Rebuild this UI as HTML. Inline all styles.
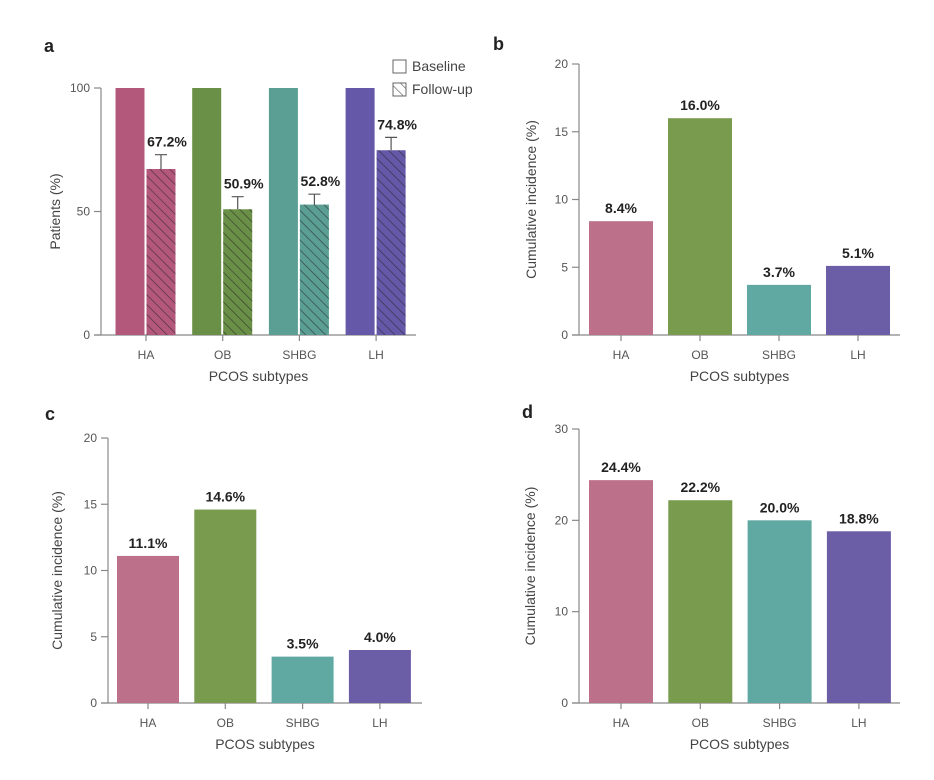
<!DOCTYPE html>
<html><head><meta charset="utf-8"><style>
html,body{margin:0;padding:0;background:#fff;}
svg{display:block;font-family:"Liberation Sans",sans-serif;}
.tick{font-size:12px;fill:#555;}
.lab{font-size:14px;font-weight:900;fill:#222;}
.ttl{font-size:14px;fill:#444;}
.pl{font-size:18px;font-weight:bold;fill:#222;}
</style></head><body>
<svg id="fig" width="934" height="780" viewBox="0 0 934 780">
<defs>
<pattern id="hatch" patternUnits="userSpaceOnUse" width="7" height="7" patternTransform="rotate(-45)">
<rect width="7" height="7" fill="none"/><line x1="0" y1="0" x2="0" y2="7" stroke="#222" stroke-opacity="0.7" stroke-width="1.4"/>
</pattern>
</defs>
</svg>
<script>
const categories = ["HA","OB","SHBG","LH"];
const aBaseline = [100,100,100,100];
const aFollow = [67.2,50.9,52.8,74.8];
const aErrTop = [73,56,57,80];
const aTicks = [0,50,100];
const bValues = [8.4,16.0,3.7,5.1];
const bTicks = [0,5,10,15,20];
const cValues = [11.1,14.6,3.5,4.0];
const cTicks = [0,5,10,15,20];
const dValues = [24.4,22.2,20.0,18.8];
const dTicks = [0,10,20,30];
const colorsA = ["#b4587b","#6a8f46","#5b9e94","#6658a8"];
const colorsB = ["#bd7089","#789b4d","#5fa9a2","#6b5da6"];

const svg = document.getElementById('fig');
const NS = "http://www.w3.org/2000/svg";
function mk(tag, attrs, parent, text){
  const e = document.createElementNS(NS, tag);
  for (const k in attrs) e.setAttribute(k, attrs[k]);
  if (text !== undefined) e.textContent = text;
  (parent||svg).appendChild(e);
  return e;
}

function panel(o){
  const g = mk('g', {});
  
  
  const yScale = v => o.y0 - (v / o.yMax) * (o.y0 - o.yTop);
  const xScale = i => o.cx0 + i * o.step;
  const L = mk('text', {x:o.lx, y:o.ly, class:'pl'}, g, o.letter);
  
  
  const ya = mk('line', {x1:o.ax, y1:yScale(o.yMax), x2:o.ax, y2:o.y0, stroke:'#888', 'stroke-width':1.2}, g);
  
  
  o.ticks.forEach(t => {
    const y = yScale(t);
    mk('line', {x1:o.ax-7, y1:y, x2:o.ax, y2:y, stroke:'#888', 'stroke-width':1.2}, g);
    const tt = mk('text', {x:o.ax-11, y:y+4, 'text-anchor':'end', class:'tick'}, g, String(t));
    
    
  });
  const xa = mk('line', {x1:o.ax-7, y1:o.y0, x2:o.axEnd, y2:o.y0, stroke:'#888', 'stroke-width':1.2}, g);
  
  
  categories.forEach((c, i) => {
    const x = xScale(i);
    mk('line', {x1:x, y1:o.y0, x2:x, y2:o.y0+6, stroke:'#888', 'stroke-width':1.2}, g);
    const t = mk('text', {x:x, y:o.y0+24, 'text-anchor':'middle', class:'tick'}, g, c);
    
    
  });
  const xt = mk('text', {x:(o.ax + o.axEnd)/2, y:o.y0+46, 'text-anchor':'middle', class:'ttl'}, g, 'PCOS subtypes');
  
  
  const yc = (yScale(o.yMax) + o.y0) / 2;
  const yt = mk('text', {x:o.ytx, y:yc, 'text-anchor':'middle', class:'ttl', transform:'rotate(-90 '+o.ytx+' '+yc+')'}, g, o.yTitle);
  
  
  return {g, yScale, xScale};
}

(function(){
  const p = panel({letter:'a', lx:44, ly:52, ax:101, axEnd:416, y0:335, yTop:88, yMax:100, ticks:aTicks, cx0:146, step:76.7, ytx:60, yTitle:'Patients (%)'});
  const bw = 29;
  categories.forEach((c, i) => {
    const x = p.xScale(i);
    const b1 = mk('rect', {x:x-bw-1.5, y:p.yScale(aBaseline[i]), width:bw, height:p.yScale(0)-p.yScale(aBaseline[i]), fill:colorsA[i]}, p.g);
    
    
    const yb = p.yScale(aFollow[i]);
    const b2 = mk('rect', {x:x+0.5, y:yb, width:bw, height:p.yScale(0)-yb, fill:colorsA[i]}, p.g);
    
    
    mk('rect', {x:x+0.5, y:yb, width:bw, height:p.yScale(0)-yb, fill:'url(#hatch)'}, p.g);
    const cx = x + 0.5 + bw/2, ye = p.yScale(aErrTop[i]);
    const eb = mk('path', {d:'M'+cx+' '+yb+'V'+ye+'M'+(cx-6)+' '+ye+'H'+(cx+6), stroke:'#555', 'stroke-width':1.2, fill:'none'}, p.g);
    
    
    const lb = mk('text', {x:cx+6, y:ye-8, 'text-anchor':'middle', class:'lab'}, p.g, aFollow[i].toFixed(1)+'%');
    
    
  });
  const lg = mk('g', {}, p.g);
  
  
  mk('rect', {x:393, y:60, width:13, height:13, fill:'#fff', stroke:'#666', 'stroke-width':1}, lg);
  const t1 = mk('text', {x:412, y:71, class:'ttl', 'font-size':'14'}, lg, 'Baseline');
  
  
  mk('rect', {x:393, y:83, width:13, height:13, fill:'url(#hatch)', stroke:'#666', 'stroke-width':1}, lg);
  const t2 = mk('text', {x:412, y:94, class:'ttl', 'font-size':'14'}, lg, 'Follow-up');
  
  
})();

function simple(o, values){
  const p = panel(o);
  categories.forEach((c, i) => {
    const x = p.xScale(i), y = p.yScale(values[i]);
    const r = mk('rect', {x:x-o.bw/2, y:y, width:o.bw, height:p.yScale(0)-y, fill:colorsB[i]}, p.g);
    
    
    const t = mk('text', {x:x, y:y-8, 'text-anchor':'middle', class:'lab'}, p.g, values[i].toFixed(1)+'%');
    
    
  });
}
simple({letter:'b', lx:493, ly:50, ax:579, axEnd:900, y0:335, yTop:64, yMax:20, ticks:bTicks, cx0:621, step:79, bw:64, ytx:536, yTitle:'Cumulative incidence (%)'}, bValues);
simple({letter:'c', lx:45, ly:420, ax:108, axEnd:422, y0:703, yTop:438, yMax:20, ticks:cTicks, cx0:148, step:77.3, bw:62, ytx:62, yTitle:'Cumulative incidence (%)'}, cValues);
simple({letter:'d', lx:522, ly:418, ax:579, axEnd:900, y0:703, yTop:429, yMax:30, ticks:dTicks, cx0:621, step:79.3, bw:64, ytx:535, yTitle:'Cumulative incidence (%)'}, dValues);
</script>
</body></html>
